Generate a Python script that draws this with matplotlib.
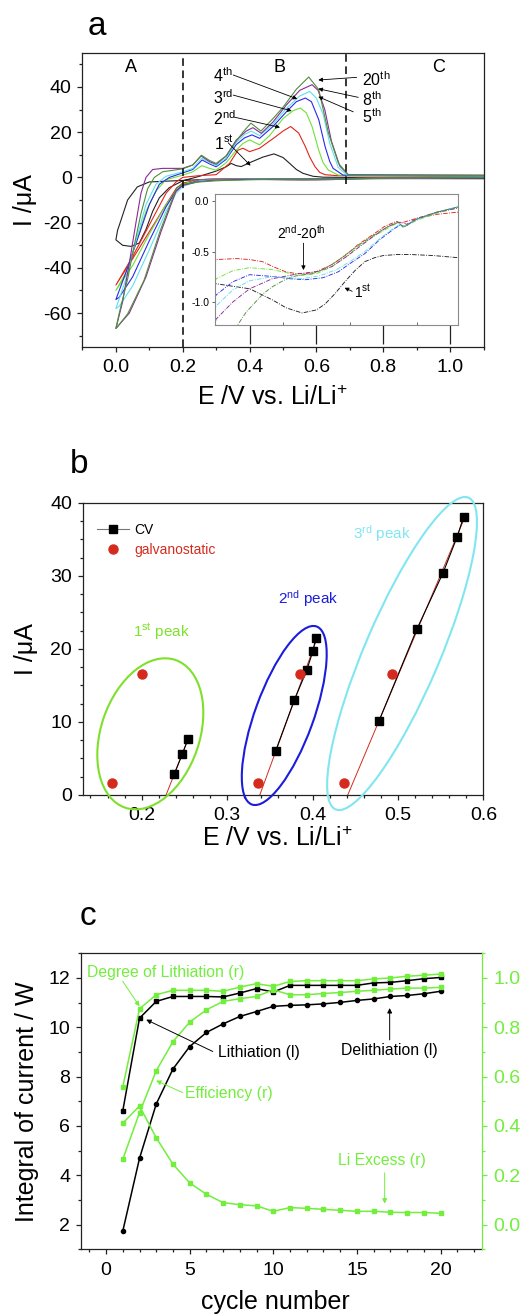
import matplotlib
matplotlib.use('Agg')
import matplotlib.pyplot as plt
import matplotlib.transforms as mtransforms
from matplotlib.patches import Ellipse
from matplotlib.lines import Line2D
from matplotlib.ticker import MultipleLocator, FormatStrFormatter
import numpy as np

plt.rcParams['font.family'] = ['Liberation Sans', 'DejaVu Sans']
plt.rcParams['mathtext.fontset'] = 'custom'
plt.rcParams['mathtext.rm'] = 'Liberation Sans'
plt.rcParams['mathtext.it'] = 'Liberation Sans:italic'
plt.rcParams['mathtext.bf'] = 'Liberation Sans:bold'
plt.rcParams['axes.unicode_minus'] = False

# ---------------- panel a: CV cycles (E in V, I in uA) ----------------
# anodic scans 0 -> 1.1 V
an_E_1st = [0.0, 0.02, 0.045, 0.07, 0.09, 0.11, 0.13, 0.16, 0.20, 0.25, 0.30, 0.33, 0.345, 0.36, 0.375, 0.40,
            0.44, 0.473, 0.50, 0.52, 0.54, 0.56, 0.59, 0.62, 0.70, 0.90, 1.10]
an_I_1st = [-27.6, -30.0, -30.5, -29.0, -23.0, -15.0, -9.0, -4.5, -1.5, 0.5, 2.8, 4.7, 6.2, 5.2, 4.8, 6.5,
            9.0, 10.4, 8.8, 6.2, 3.5, 1.8, 0.5, 0.1, 0.0, 0.0, 0.0]
an_E_2nd = [0.0, 0.05, 0.10, 0.15, 0.18, 0.20, 0.25, 0.30, 0.34, 0.365, 0.38, 0.40, 0.43, 0.478, 0.50, 0.523,
            0.547, 0.567, 0.58, 0.596, 0.61, 0.626, 0.66, 0.75, 0.90, 1.10]
an_I_2nd = [-47.6, -35.0, -21.0, -7.0, -2.0, 0.0, 0.8, 1.2, 6.2, 12.0, 12.9, 11.4, 12.9, 18.0, 20.5, 22.5,
            19.6, 13.6, 9.0, 4.7, 2.2, 1.2, 0.8, 0.7, 0.6, 0.5]
an_E_3rd = [0.0, 0.03, 0.06, 0.09, 0.12, 0.15, 0.20, 0.23, 0.257, 0.28, 0.30, 0.33, 0.36, 0.38, 0.40, 0.43,
            0.46, 0.50, 0.53, 0.552, 0.57, 0.587, 0.607, 0.62, 0.636, 0.666, 0.72, 0.90, 1.10]
an_I_3rd = [-50.0, -42.0, -29.0, -15.0, -6.0, -1.0, 1.0, 2.5, 5.2, 4.0, 3.2, 6.5, 12.0, 15.0, 16.6, 14.4,
            18.5, 26.0, 29.5, 30.7, 28.5, 22.5, 12.0, 6.5, 3.2, 1.0, 0.8, 0.7, 0.6]
an_E_4th = [0.0, 0.03, 0.07, 0.10, 0.13, 0.16, 0.20, 0.23, 0.258, 0.28, 0.30, 0.33, 0.36, 0.385, 0.407, 0.43,
            0.47, 0.51, 0.54, 0.567, 0.585, 0.607, 0.626, 0.64, 0.65, 0.68, 0.75, 0.90, 1.10]
an_I_4th = [-54.0, -42.0, -25.0, -12.0, -3.0, 0.0, 2.0, 3.5, 7.7, 6.0, 4.7, 8.0, 14.5, 17.5, 18.8, 17.3,
            22.5, 29.0, 33.5, 35.1, 33.5, 25.5, 13.6, 7.0, 4.0, 1.0, 0.9, 0.8, 0.6]
an_E_5th = [0.0, 0.03, 0.06, 0.09, 0.12, 0.15, 0.20, 0.23, 0.257, 0.28, 0.30, 0.33, 0.36, 0.385, 0.405, 0.43,
            0.47, 0.51, 0.55, 0.58, 0.60, 0.62, 0.64, 0.665, 0.69, 0.75, 0.90, 1.10]
an_I_5th = [-58.0, -45.0, -28.0, -12.0, -3.0, 0.5, 2.5, 4.0, 8.5, 6.5, 5.2, 8.5, 15.5, 19.0, 20.5, 18.5,
            23.5, 30.5, 36.0, 38.0, 35.0, 28.0, 15.0, 4.5, 1.2, 1.0, 0.9, 0.7]
an_E_8th = [0.0, 0.02, 0.04, 0.06, 0.075, 0.09, 0.11, 0.14, 0.20, 0.23, 0.255, 0.28, 0.30, 0.33, 0.36, 0.39,
            0.41, 0.435, 0.47, 0.51, 0.55, 0.587, 0.605, 0.625, 0.645, 0.67, 0.695, 0.75, 0.90, 1.10]
an_I_8th = [-66.8, -55.0, -38.0, -20.0, -7.0, 0.0, 3.5, 4.0, 4.0, 5.5, 9.5, 7.0, 5.8, 9.5, 16.5, 20.5,
            22.0, 19.5, 24.5, 32.0, 38.5, 41.0, 38.5, 30.0, 16.0, 5.0, 1.3, 1.2, 1.1, 1.0]
an_E_20th = [0.0, 0.01, 0.035, 0.055, 0.075, 0.095, 0.115, 0.14, 0.20, 0.23, 0.256, 0.28, 0.30, 0.33, 0.36, 0.38,
             0.404, 0.434, 0.47, 0.50, 0.54, 0.577, 0.607, 0.636, 0.666, 0.695, 0.75, 0.90, 1.10]
an_I_20th = [-66.8, -60.0, -45.0, -30.0, -16.0, -5.0, 0.0, 2.5, 3.8, 5.5, 9.8, 7.5, 6.2, 9.5, 16.0, 20.0,
             24.0, 20.5, 26.0, 31.0, 39.0, 44.4, 38.8, 19.6, 6.2, 1.2, 1.1, 1.0, 0.9]

# cathodic scans, low potential part (0 -> ~0.3 V)
cath_E_1st = [0.0, 0.005, 0.015, 0.035, 0.064, 0.10, 0.16, 0.22, 0.27]
cath_I_1st = [-27.6, -23.4, -19.0, -10.0, -4.2, -2.0, -1.6, -1.2, -0.9]
cath_E_2nd = [0.0, 0.05, 0.10, 0.15, 0.18, 0.20, 0.25]
cath_I_2nd = [-47.6, -36.0, -24.0, -12.0, -5.0, -2.5, -1.0]
cath_E_3rd = [0.0, 0.05, 0.10, 0.15, 0.18, 0.20, 0.25]
cath_I_3rd = [-50.0, -39.0, -25.0, -12.0, -6.0, -3.0, -1.2]
cath_E_4th = [0.0, 0.01, 0.05, 0.10, 0.15, 0.18, 0.20, 0.25]
cath_I_4th = [-54.0, -53.0, -44.0, -28.0, -13.0, -6.0, -3.5, -1.3]
cath_E_5th = [0.0, 0.01, 0.05, 0.10, 0.15, 0.18, 0.20, 0.25]
cath_I_5th = [-58.0, -57.0, -48.0, -32.0, -15.0, -7.0, -4.0, -1.5]
cath_E_8th = [0.0, 0.04, 0.09, 0.135, 0.18, 0.20, 0.25]
cath_I_8th = [-66.8, -60.0, -44.0, -24.0, -6.0, -3.5, -1.8]
cath_E_20th = [0.0, 0.005, 0.035, 0.084, 0.133, 0.182, 0.20, 0.25, 0.30, 0.33]
cath_I_20th = [-66.8, -66.0, -60.4, -45.6, -23.4, -4.5, -3.0, -2.0, -1.5, -1.3]

# cathodic scans, high potential part (shown magnified in the inset)
ins_E_1st = [0.30, 0.40, 0.468, 0.51, 0.557, 0.60, 0.626, 0.655, 0.685, 0.715, 0.745, 0.775, 0.80, 0.84, 0.883,
             0.95, 1.02, 1.10]
ins_I_1st = [-0.82, -0.87, -0.98, -1.06, -1.11, -1.08, -1.02, -0.92, -0.80, -0.69, -0.60, -0.56, -0.54, -0.53, -0.53,
             -0.54, -0.56, -0.57]
ins_E_2nd = [0.30, 0.36, 0.40, 0.438, 0.47, 0.507, 0.54, 0.567, 0.60, 0.646, 0.69, 0.725, 0.77, 0.804, 0.84, 0.85,
             0.90, 0.962, 1.02, 1.10]
ins_I_2nd = [-0.58, -0.57, -0.58, -0.60, -0.65, -0.70, -0.72, -0.72, -0.70, -0.63, -0.53, -0.43, -0.33, -0.25, -0.20,
             -0.22, -0.17, -0.13, -0.11, -0.09]
ins_E_3rd = [0.30, 0.35, 0.40, 0.468, 0.51, 0.547, 0.60, 0.646, 0.69, 0.725, 0.77, 0.824, 0.845, 0.86, 0.90, 0.96,
             1.02, 1.10]
ins_I_3rd = [-0.77, -0.69, -0.66, -0.68, -0.71, -0.74, -0.72, -0.65, -0.55, -0.45, -0.35, -0.25, -0.21, -0.26, -0.19,
             -0.12, -0.07, -0.04]
ins_E_4th = [0.30, 0.35, 0.40, 0.478, 0.52, 0.567, 0.62, 0.666, 0.70, 0.745, 0.79, 0.834, 0.85, 0.865, 0.90, 0.96,
             1.02, 1.10]
ins_I_4th = [-0.93, -0.80, -0.73, -0.75, -0.77, -0.78, -0.76, -0.70, -0.62, -0.52, -0.38, -0.27, -0.24, -0.25, -0.18,
             -0.11, -0.06, -0.03]
ins_E_5th = [0.30, 0.35, 0.40, 0.468, 0.52, 0.557, 0.61, 0.66, 0.70, 0.745, 0.79, 0.83, 0.85, 0.865, 0.90, 0.96,
             1.02, 1.10]
ins_I_5th = [-1.04, -0.88, -0.79, -0.75, -0.76, -0.77, -0.74, -0.68, -0.60, -0.50, -0.37, -0.27, -0.23, -0.25, -0.18,
             -0.11, -0.06, -0.03]
ins_E_8th = [0.30, 0.35, 0.40, 0.468, 0.547, 0.60, 0.646, 0.69, 0.73, 0.77, 0.81, 0.84, 0.855, 0.87, 0.90, 0.96,
             1.02, 1.10]
ins_I_8th = [-1.17, -1.00, -0.87, -0.77, -0.72, -0.70, -0.65, -0.55, -0.45, -0.35, -0.26, -0.21, -0.21, -0.23, -0.17,
             -0.11, -0.07, -0.04]
ins_E_20th = [0.364, 0.39, 0.418, 0.44, 0.468, 0.50, 0.527, 0.56, 0.587, 0.62, 0.66, 0.70, 0.725, 0.77, 0.81, 0.845,
              0.86, 0.90, 0.96, 1.02, 1.10]
ins_I_20th = [-1.23, -1.10, -1.00, -0.92, -0.85, -0.79, -0.75, -0.73, -0.72, -0.68, -0.60, -0.50, -0.44, -0.34, -0.26,
              -0.21, -0.26, -0.18, -0.11, -0.06, -0.03]

# ---------------- panel b: peak positions ----------------
cv_E_peak1 = [0.238, 0.2476, 0.254]
cv_I_peak1 = [2.83, 5.6, 7.6]
cv_E_peak2 = [0.357, 0.3787, 0.3932, 0.4006, 0.4037]
cv_I_peak2 = [6.07, 13.0, 17.06, 19.75, 21.44]
cv_E_peak3 = [0.4779, 0.5224, 0.5528, 0.5692, 0.577]
cv_I_peak3 = [10.17, 22.76, 30.4, 35.3, 38.1]
galv_E = [0.1649, 0.2007, 0.3365, 0.3854, 0.4369, 0.4931]
galv_I = [1.6, 16.56, 1.6, 16.56, 1.6, 16.56]

# ---------------- panel c: integrals vs cycle ----------------
cycle = list(range(1, 21))
lithiation = [6.62, 10.37, 11.05, 11.25, 11.25, 11.25, 11.23, 11.39, 11.57, 11.43,
              11.70, 11.70, 11.70, 11.70, 11.70, 11.80, 11.82, 11.89, 11.97, 12.02]
delithiation = [1.74, 4.69, 6.89, 8.31, 9.22, 9.79, 10.14, 10.44, 10.64, 10.85,
                10.89, 10.91, 10.95, 11.01, 11.09, 11.15, 11.25, 11.29, 11.36, 11.46]
degree = [0.559, 0.875, 0.932, 0.950, 0.950, 0.950, 0.946, 0.963, 0.977, 0.966,
          0.986, 0.989, 0.989, 0.989, 0.989, 0.996, 1.000, 1.007, 1.011, 1.016]
efficiency = [0.265, 0.454, 0.624, 0.742, 0.821, 0.871, 0.905, 0.916, 0.925, 0.952,
              0.932, 0.932, 0.937, 0.941, 0.946, 0.950, 0.955, 0.959, 0.959, 0.962]
li_excess = [0.411, 0.481, 0.352, 0.245, 0.169, 0.123, 0.089, 0.081, 0.076, 0.054,
             0.069, 0.066, 0.062, 0.058, 0.054, 0.054, 0.050, 0.049, 0.049, 0.046]

cycle_colors = {'1st': '#222222', '2nd': '#e3241b', '3rd': '#6fe03a', '4th': '#2a2ae8',
                '5th': '#5fe0ee', '8th': '#8a2a9a', '20th': '#4f8f3a'}
cycles_a = [
    ('1st', an_E_1st, an_I_1st, cath_E_1st, cath_I_1st, ins_E_1st, ins_I_1st),
    ('2nd', an_E_2nd, an_I_2nd, cath_E_2nd, cath_I_2nd, ins_E_2nd, ins_I_2nd),
    ('3rd', an_E_3rd, an_I_3rd, cath_E_3rd, cath_I_3rd, ins_E_3rd, ins_I_3rd),
    ('4th', an_E_4th, an_I_4th, cath_E_4th, cath_I_4th, ins_E_4th, ins_I_4th),
    ('5th', an_E_5th, an_I_5th, cath_E_5th, cath_I_5th, ins_E_5th, ins_I_5th),
    ('8th', an_E_8th, an_I_8th, cath_E_8th, cath_I_8th, ins_E_8th, ins_I_8th),
    ('20th', an_E_20th, an_I_20th, cath_E_20th, cath_I_20th, ins_E_20th, ins_I_20th),
]

GREEN = '#72ee3c'
RED = '#d42b1e'
TICK_FS = 14
LABEL_FS = 18


def style_axis(ax):
    for s in ax.spines.values():
        s.set_linewidth(0.9)
        s.set_color('#222222')
    ax.tick_params(which='both', direction='out', labelsize=TICK_FS, width=0.9, color='#222222')
    ax.tick_params(which='major', length=3.8)
    ax.tick_params(which='minor', length=2.2)
    ax.tick_params(axis='y', pad=4)
    ax.tick_params(axis='x', pad=5)


def arrow(ax, tail, head, color='k', lw=0.7, ms=7):
    ax.annotate('', xy=head, xytext=tail,
                arrowprops=dict(arrowstyle='-|>', color=color, lw=lw,
                                mutation_scale=ms, shrinkA=0, shrinkB=0))


fig = plt.figure(figsize=(5.27, 13.16), dpi=100)

# =============== panel a ===============
ax_a = fig.add_axes([0.1565, 0.7363, 0.761, 0.2234])
ax_a.set_xlim(-0.1, 1.1)
ax_a.set_ylim(-75, 55)
for name, aE, aI, cE, cI, iE, iI in cycles_a:
    E = np.r_[iE[::-1], cE[::-1], aE]
    I = np.r_[iI[::-1], cI[::-1], aI]
    ax_a.plot(E, I, color=cycle_colors[name], lw=0.8)
ax_a.axvline(0.2, color='k', lw=1.1, ls=(0, (5, 3)))
ax_a.vlines(0.69, -3, 55, color='k', lw=1.1, linestyles=[(0, (5, 3))])
style_axis(ax_a)
ax_a.xaxis.set_major_locator(MultipleLocator(0.2))
ax_a.xaxis.set_minor_locator(MultipleLocator(0.1))
ax_a.xaxis.set_major_formatter(FormatStrFormatter('%.1f'))
ax_a.yaxis.set_major_locator(MultipleLocator(20))
ax_a.yaxis.set_minor_locator(MultipleLocator(10))
ax_a.set_yticks([-60, -40, -20, 0, 20, 40])
ax_a.text(0.474, -0.197, r'E /V vs. Li/Li$^{+}$', transform=ax_a.transAxes, ha='center', va='baseline',
          fontsize=LABEL_FS)
ax_a.text(-0.143, 0.5, 'I /\u03bcA', transform=ax_a.transAxes, rotation=90, ha='center', va='center',
          fontsize=LABEL_FS)
for lab, xx in [('A', 0.044), ('B', 0.49), ('C', 0.965)]:
    ax_a.text(xx, 48.6, lab, ha='center', va='center', fontsize=13)

cyc_labels = [
    (r'4$^{\mathrm{th}}$', (0.2896, 44.8), (0.351, 45.3), (0.5428, 34.7)),
    (r'3$^{\mathrm{rd}}$', (0.2896, 35.4), (0.351, 36.4), (0.526, 29.4)),
    (r'2$^{\mathrm{nd}}$', (0.2896, 25.8), (0.356, 26.6), (0.491, 22.1)),
    (r'1$^{\mathrm{st}}$', (0.2935, 15.1), (0.336, 15.3), (0.403, 5.2)),
    (r'20$^{\mathrm{th}}$', (0.735, 43.1), (0.7205, 44.25), (0.6056, 43.06)),
    (r'8$^{\mathrm{th}}$', (0.735, 34.2), (0.7253, 35.4), (0.6056, 39.2)),
    (r'5$^{\mathrm{th}}$', (0.735, 26.8), (0.7103, 29.0), (0.6056, 35.7)),
]
for txt, pos, tail, head in cyc_labels:
    ax_a.text(pos[0], pos[1], txt, ha='left', va='center', fontsize=11.5)
    arrow(ax_a, tail, head, lw=0.6, ms=6)

# inset
ax_in = fig.add_axes([0.408, 0.753, 0.4611, 0.0995])
ax_in.set_xlim(0.2964, 1.0236)
ax_in.set_ylim(-1.23, 0.07)
for name, aE, aI, cE, cI, iE, iI in cycles_a:
    ax_in.plot(np.r_[cE, iE], np.r_[cI, iI], color=cycle_colors[name], lw=0.65,
               ls=(0, (5, 1.5, 1, 1.5)))
for s in ax_in.spines.values():
    s.set_color('#8a8a8a')
    s.set_linewidth(0.8)
ax_in.set_yticks([0.0, -0.5, -1.0])
ax_in.yaxis.set_major_formatter(FormatStrFormatter('%.1f'))
ax_in.tick_params(axis='y', labelsize=7.5, length=2.5, width=0.7, color='#666666', pad=1.5)
ax_in.set_xticks([0.4, 0.6, 0.8, 1.0])
ax_in.set_xticks([0.5, 0.7, 0.9], minor=True)
ax_in.tick_params(axis='x', which='major', length=13.5, width=0.9, color='#222222', labelbottom=False)
ax_in.tick_params(axis='x', which='minor', direction='in', length=2, width=0.7, color='#666666')
ax_in.text(0.556, -0.317, r'2$^{\mathrm{nd}}$-20$^{\mathrm{th}}$', ha='center', va='center', fontsize=10)
arrow(ax_in, (0.561, -0.417), (0.561, -0.684), lw=0.6, ms=6)
ax_in.text(0.712, -0.90, r'1$^{\mathrm{st}}$', ha='left', va='center', fontsize=10)
arrow(ax_in, (0.707, -0.895), (0.684, -0.86), lw=0.6, ms=6)

fig.text(0.167, 0.9734, 'a', fontsize=24, ha='left', va='baseline')

# =============== panel b ===============
ax_b = fig.add_axes([0.157, 0.3959, 0.7602, 0.2221])
ax_b.set_xlim(0.131, 0.6)
ax_b.set_ylim(0, 40)
for pe, pi in [(cv_E_peak1, cv_I_peak1), (cv_E_peak2, cv_I_peak2), (cv_E_peak3, cv_I_peak3)]:
    slope, icpt = np.polyfit(pe, pi, 1)
    fit_I = np.array([0.0, max(pi)])
    ax_b.plot((fit_I - icpt) / slope, fit_I, color=RED, lw=0.7, zorder=2)
    ax_b.plot(pe, pi, color='k', lw=0.8, marker='s', ms=5.5, zorder=3)
ax_b.plot(galv_E, galv_I, ls='none', marker='o', ms=6.5, color=RED, mec=RED, zorder=3)

ell_specs = [((0.2101, 8.37), 49.3, 78.0, -18.8, '#7fe02c'),
             ((0.3669, 10.88), 29.2, 94.7, -20.0, '#1c1cdc'),
             ((0.5048, 19.36), 37.6, 169.4, -23.1, '#80e6f0')]
for (cx, cy), b_px, a_px, ang, col in ell_specs:
    tr = fig.dpi_scale_trans + mtransforms.ScaledTranslation(cx, cy, ax_b.transData)
    ax_b.add_patch(Ellipse((0, 0), 2 * b_px / 100, 2 * a_px / 100, angle=ang, transform=tr,
                           fill=False, ec=col, lw=1.5, clip_on=False, zorder=4))
ax_b.text(0.1895, 22.4, r'1$^{\mathrm{st}}$ peak', color='#7fe02c', fontsize=11, ha='left', va='center')
ax_b.text(0.360, 26.9, r'2$^{\mathrm{nd}}$ peak', color='#1c1cdc', fontsize=11, ha='left', va='center')
ax_b.text(0.4478, 35.8, r'3$^{\mathrm{rd}}$ peak', color='#80e6f0', fontsize=11, ha='left', va='center')

leg = ax_b.legend(handles=[Line2D([], [], color='#777777', lw=0.8, marker='s', ms=5.5, mfc='k', mec='k'),
                           Line2D([], [], ls='none', marker='o', ms=6.5, color=RED)],
                  labels=['CV', 'galvanostatic'], loc='upper left', bbox_to_anchor=(0.035, 0.93),
                  frameon=False, fontsize=10, handlelength=2.3, handletextpad=0.4,
                  labelspacing=0.4, borderpad=0, borderaxespad=0)
leg.get_texts()[1].set_color(RED)

style_axis(ax_b)
ax_b.xaxis.set_major_locator(MultipleLocator(0.1))
ax_b.xaxis.set_minor_locator(MultipleLocator(0.02))
ax_b.xaxis.set_major_formatter(FormatStrFormatter('%.1f'))
ax_b.yaxis.set_major_locator(MultipleLocator(10))
ax_b.yaxis.set_minor_locator(MultipleLocator(2.5))
ax_b.text(0.485, -0.175, r'E /V vs. Li/Li$^{+}$', transform=ax_b.transAxes, ha='center', va='baseline',
          fontsize=LABEL_FS)
ax_b.text(-0.141, 0.5, 'I /\u03bcA', transform=ax_b.transAxes, rotation=90, ha='center', va='center',
          fontsize=LABEL_FS)
fig.text(0.133, 0.6406, 'b', fontsize=24, ha='left', va='baseline')

# =============== panel c ===============
ax_c = fig.add_axes([0.1537, 0.0507, 0.7615, 0.2249])
ax_c.set_xlim(-1.5, 22.5)
ax_c.set_ylim(1, 13)
ax_c.plot(cycle, lithiation, color='k', lw=1.1, marker='s', ms=2.8)
ax_c.plot(cycle, delithiation, color='k', lw=1.1, marker='o', ms=3.0)
style_axis(ax_c)
ax_c.spines['right'].set_visible(False)
ax_c.xaxis.set_major_locator(MultipleLocator(5))
ax_c.xaxis.set_minor_locator(MultipleLocator(1))
ax_c.yaxis.set_major_locator(MultipleLocator(2))
ax_c.yaxis.set_minor_locator(MultipleLocator(1))
ax_c.set_yticks([2, 4, 6, 8, 10, 12])

ax_r = ax_c.twinx()
ax_r.set_ylim(-0.1, 1.1)
ax_r.plot(cycle, degree, color=GREEN, lw=1.1, marker='s', ms=2.8)
ax_r.plot(cycle, efficiency, color=GREEN, lw=1.1, marker='s', ms=2.8)
ax_r.plot(cycle, li_excess, color=GREEN, lw=1.1, marker='s', ms=2.8)
for side in ['top', 'left', 'bottom']:
    ax_r.spines[side].set_visible(False)
ax_r.spines['right'].set_color(GREEN)
ax_r.spines['right'].set_linewidth(0.9)
ax_r.yaxis.set_major_locator(MultipleLocator(0.2))
ax_r.yaxis.set_minor_locator(MultipleLocator(0.1))
ax_r.yaxis.set_major_formatter(FormatStrFormatter('%.1f'))
ax_r.tick_params(which='both', direction='out', labelsize=TICK_FS, width=0.9, color=GREEN,
                 labelcolor=GREEN, pad=4)
ax_r.tick_params(which='major', length=3.8)
ax_r.tick_params(which='minor', length=2.2)

ax_r.text(-1.16, 1.024, 'Degree of Lithiation (r)', color=GREEN, fontsize=11.3, ha='left', va='center')
arrow(ax_r, (1.0, 0.986), (2.0, 0.885), color=GREEN, lw=0.7, ms=7)
ax_r.text(4.69, 0.532, 'Efficiency (r)', color=GREEN, fontsize=11.3, ha='left', va='center')
arrow(ax_r, (4.59, 0.535), (2.99, 0.584), color=GREEN, lw=0.7, ms=7)
ax_r.text(16.5, 0.259, 'Li Excess (r)', color=GREEN, fontsize=11.3, ha='center', va='center')
arrow(ax_r, (16.66, 0.21), (16.66, 0.085), color=GREEN, lw=0.7, ms=7)
ax_r.text(6.68, (8.98 - 2) / 10, 'Lithiation (l)', color='k', fontsize=11.3, ha='left', va='center')
arrow(ax_r, (6.38, (9.02 - 2) / 10), (2.4, (10.31 - 2) / 10), color='k', lw=0.7, ms=7)
ax_r.text(16.96, (9.04 - 2) / 10, 'Delithiation (l)', color='k', fontsize=11.3, ha='center', va='center')
arrow(ax_r, (16.96, (9.49 - 2) / 10), (16.96, (10.78 - 2) / 10), color='k', lw=0.7, ms=7)

ax_c.text(0.4845, -0.2027, 'cycle number', transform=ax_c.transAxes, ha='center', va='baseline',
          fontsize=LABEL_FS)
ax_c.text(-0.134, 0.5, 'Integral of current / W', transform=ax_c.transAxes, rotation=90, ha='center',
          va='center', fontsize=LABEL_FS)
fig.text(0.152, 0.2971, 'c', fontsize=24, ha='left', va='baseline')

fig.savefig('out.png', dpi=100)
